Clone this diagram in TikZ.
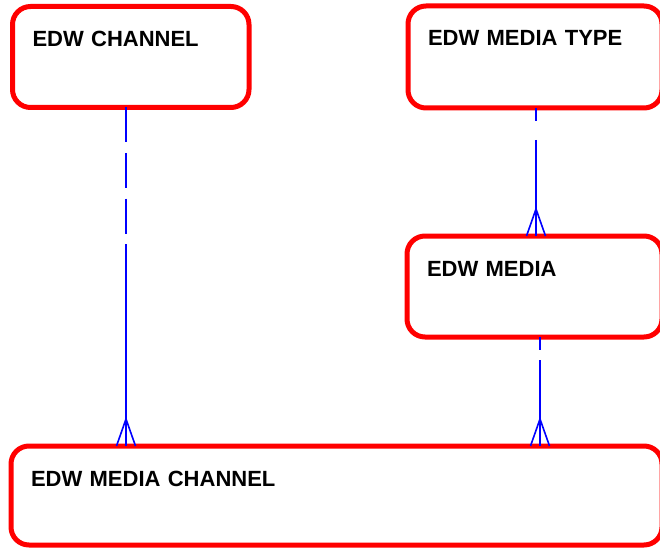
\documentclass[tikz,border=0pt]{standalone}
\usepackage{fontspec}
\setmainfont{Liberation Sans}
\usepackage{tikz}
\usetikzlibrary{arrows}

\tikzset{
	entity/.style={draw=red, line width=5pt, rounded corners=18pt, anchor=north west,
		outer sep=0pt, inner xsep=20pt, inner ysep=0pt, align=left,
		font=\fontsize{22}{26}\selectfont\bfseries, text height=40pt},
	rel/.style={draw=blue, line width=1.6pt},
}

\begin{document}
\begin{tikzpicture}[x=1pt,y=1pt]
		\useasboundingbox (0,0) rectangle (660,-548);
		%
		\node[entity, text width=196.5pt, text depth=61pt] (channel) at (12.5,-6.5) {EDW CHANNEL};
		\node[entity, text width=214pt, text depth=62pt] (mtype) at (408,-6) {EDW MEDIA TYPE};
		\node[entity, text width=215pt, text depth=61pt] (media) at (407,-236) {EDW MEDIA};
		\node[entity, text width=611pt, text depth=59pt] (mchannel) at (11,-446) {EDW MEDIA CHANNEL};
		%
		% channel to media channel
		\draw[rel, dash pattern=on 35pt off 10.5pt] ([xshift=113.5pt]channel.south west) -- ++(0,-136.5) coordinate (k1);
		\draw[rel] (k1) -- ([xshift=115pt]mchannel.north west);
		\draw[rel] ([xshift=105.5pt]mchannel.north west) -- ++(9.5,27) -- ++(9.5,-27);
		% media type to media
		\draw[rel, dash pattern=on 13pt off 19pt] ([xshift=128pt]mtype.south west) -- ++(0,-32) coordinate (k2);
		\draw[rel] (k2) -- ([xshift=129pt]media.north west);
		\draw[rel] ([xshift=119.5pt]media.north west) -- ++(9.5,27) -- ++(9.5,-27);
		% media to media channel
		\draw[rel, dash pattern=on 13pt off 10pt] ([xshift=133pt]media.south west) -- ++(0,-23) coordinate (k3);
		\draw[rel] (k3) -- ([xshift=529pt]mchannel.north west);
		\draw[rel] ([xshift=519.5pt]mchannel.north west) -- ++(9.5,27) -- ++(9.5,-27);
\end{tikzpicture}
\end{document}
